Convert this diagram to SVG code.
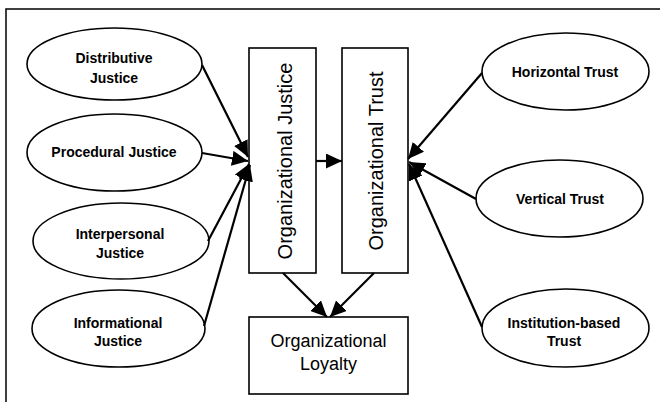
<svg xmlns="http://www.w3.org/2000/svg" width="660" height="402" viewBox="0 0 660 402">
<style>
.frame{fill:none;stroke:#000;stroke-width:1.5}
.node{fill:#fff;stroke:#000;stroke-width:1.6}
.el{font-family:"Liberation Sans",Arial,sans-serif;font-size:14px;font-weight:bold;text-anchor:middle;fill:#000}
.big{font-family:"Liberation Sans",Arial,sans-serif;font-size:20px;text-anchor:middle;fill:#000}
.loy{font-family:"Liberation Sans",Arial,sans-serif;font-size:18px;text-anchor:middle;fill:#000}
.conn line{stroke:#000;stroke-width:2.2;marker-end:url(#ah)}
</style>
<defs>
<marker id="ah" markerUnits="userSpaceOnUse" markerWidth="17" markerHeight="15" refX="16" refY="7.5" orient="auto">
<path d="M0,0 L16,7.5 L0,15 Z" fill="#000"/>
</marker>
</defs>
<rect width="660" height="402" fill="#fff"/>
<rect class="frame" x="6" y="9" width="700" height="500"/>

<g id="distributive">
<ellipse class="node" cx="114.5" cy="64" rx="87.5" ry="36"/>
<text class="el" x="114" y="63">Distributive</text>
<text class="el" x="114" y="83">Justice</text>
</g>
<g id="procedural">
<ellipse class="node" cx="114.5" cy="152.5" rx="87.5" ry="38.5"/>
<text class="el" x="114" y="157">Procedural Justice</text>
</g>
<g id="interpersonal">
<ellipse class="node" cx="121" cy="241" rx="88" ry="38"/>
<text class="el" x="120" y="239">Interpersonal</text>
<text class="el" x="120" y="258">Justice</text>
</g>
<g id="informational">
<ellipse class="node" cx="118.5" cy="328.5" rx="86.5" ry="38.5"/>
<text class="el" x="118" y="328">Informational</text>
<text class="el" x="118" y="346">Justice</text>
</g>

<g id="horizontal">
<ellipse class="node" cx="565.5" cy="71.5" rx="83.5" ry="38.5"/>
<text class="el" x="565" y="77">Horizontal Trust</text>
</g>
<g id="vertical">
<ellipse class="node" cx="559.5" cy="198.5" rx="83.5" ry="38.5"/>
<text class="el" x="560" y="204">Vertical Trust</text>
</g>
<g id="institution">
<ellipse class="node" cx="565.5" cy="328" rx="83.5" ry="39"/>
<text class="el" x="564" y="328">Institution-based</text>
<text class="el" x="564" y="346">Trust</text>
</g>

<g id="org-justice">
<rect class="node" x="249" y="48" width="67" height="225"/>
<text class="big" transform="translate(292,161) rotate(-90)">Organizational Justice</text>
</g>
<g id="org-trust">
<rect class="node" x="342" y="48" width="66" height="225"/>
<text class="big" transform="translate(383,161) rotate(-90)">Organizational Trust</text>
</g>
<g id="org-loyalty">
<rect class="node" x="249" y="317" width="159" height="77"/>
<text class="loy" x="328.5" y="347">Organizational</text>
<text class="loy" x="328.5" y="370">Loyalty</text>
</g>

<g id="connectors" class="conn">
<line x1="202" y1="65" x2="248" y2="157"/>
<line x1="202" y1="153" x2="248" y2="161"/>
<line x1="208" y1="241" x2="249" y2="164"/>
<line x1="204" y1="326" x2="250" y2="165"/>
<line x1="482" y1="73" x2="408" y2="159"/>
<line x1="476" y1="199" x2="409" y2="162"/>
<line x1="482" y1="327" x2="409" y2="164"/>
<line x1="316" y1="161" x2="342" y2="161"/>
<line x1="283" y1="273" x2="327" y2="317"/>
<line x1="374" y1="273" x2="330" y2="317"/>
</g>
</svg>
